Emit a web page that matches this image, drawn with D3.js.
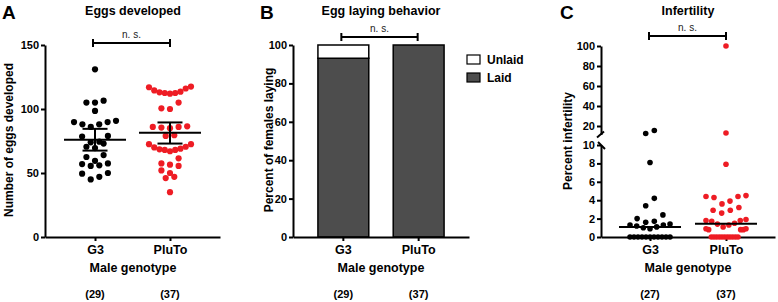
<!DOCTYPE html>
<html>
<head>
<meta charset="utf-8">
<script src="https://cdn.jsdelivr.net/npm/d3@7"></script>
<style>
  html, body { margin: 0; padding: 0; background: #fff; }
  svg { display: block; font-family: "Liberation Sans", Arial, Helvetica, sans-serif; }
  .axis path, .axis line { stroke: #000; stroke-width: 2; }
  .axis text { font-size: 11px; font-weight: bold; fill: #000; }
  .xaxis text { font-size: 12.5px; }
</style>
</head>
<body>
<svg id="chart" width="778" height="302"></svg>
<script>
// ---------------- DATA ----------------
const groups = ["G3", "PluTo"];

// Panel A: eggs developed per female
const eggsG3 = [131, 106.5, 105, 105, 98.5, 90.8, 89.8, 89.8, 88, 88, 86, 79, 78.5, 74.5, 74, 73, 70.5, 69.5,
                64, 62.5, 59.5, 57.5, 57, 56, 55.5, 50, 49.5, 47, 45];
const eggsPluTo = [117.5, 117, 116, 114.5, 113, 112.5, 112, 112.5, 113.5, 105, 100.5, 100,
                   86.5, 86, 86, 85.5, 85, 79.5, 79, 72.5, 72.5, 70.5, 70, 69, 68.5, 68, 68, 67,
                   61.5, 57.5, 56.5, 55.5, 52, 50, 47, 46, 35];
const eggsMean = [76, 81.5];
const eggsUpper = [84.5, 89.5];
const eggsLower = [67.5, 73];
const ticksA = [0, 50, 100, 150];

// Panel B: egg laying behaviour (percent of females)
const laidPct = [93.1, 100];
const unlaidPct = [6.9, 0];
const legendB = ["Unlaid", "Laid"];
const ticksB = [0, 20, 40, 60, 80, 100];

// Panel C: percent infertility
const infertG3 = [15.5, 12.5, 8.1, 4.2, 3.4, 2.4, 2.0, 1.7, 1.6, 1.4, 1.3, 1.3, 1.2, 1.1, 1.0, 0.9,
                  0, 0, 0, 0, 0, 0, 0, 0, 0, 0, 0];
const infertPluTo = [100, 13, 7.9, 4.5, 4.4, 4.4, 4.3, 3.9, 3.6, 3.2, 2.9, 2.9, 2.6, 1.9, 1.8, 1.8, 1.7,
                     1.5, 1.4, 1.3, 1.1, 0.9, 0.9, 0.8, 0.8, 0.8,
                     0, 0, 0, 0, 0, 0, 0, 0, 0, 0, 0];
const infertMedian = [1.1, 1.45];
const ticksCUpper = [20, 40, 60, 80, 100];
const ticksCLower = [0, 2, 4, 6, 8, 10];

const nA = ["(29)", "(37)"];
const nB = ["(29)", "(37)"];
const nC = ["(27)", "(37)"];

const titles = ["Eggs developed", "Egg laying behavior", "Infertility"];
const yLabels = ["Number of eggs developed", "Percent of females laying", "Percent infertility"];
const panelLetters = ["A", "B", "C"];
const xTitle = "Male genotype";
const sigText = "n. s.";

// ---------------- HELPERS ----------------
const BLACK = "#000", RED = "#ee1c24", GRAY = "#4d4d4d";
const svg = d3.select("#chart");

// Prism-like scatter: points grouped in rows (close y), spread horizontally, lowest value in centre
function rows(values, yfn, T, maxSpan, maxStep) {
  const pts = values.map(v => ({ v, y: yfn(v) })).sort((a, b) => b.v - a.v);
  const out = [];
  let i = 0;
  while (i < pts.length) {
    const grp = [pts[i]];
    let j = i + 1;
    while (j < pts.length && pts[j].y - pts[i].y <= T) { grp.push(pts[j]); j++; }
    const n = grp.length;
    const step = n > 1 ? Math.min(maxStep, maxSpan / (n - 1)) : 0;
    const slots = d3.range(n).map(k => (k - (n - 1) / 2) * step)
      .sort((a, b) => Math.abs(a) - Math.abs(b) || a - b);
    grp.sort((a, b) => a.v - b.v).forEach((p, k) => { p.dx = slots[k]; out.push(p); });
    i = j;
  }
  return out;
}

function sigBracket(x1, x2, y, textY) {
  const g = svg.append("g").attr("stroke", BLACK).attr("stroke-width", 2);
  g.append("line").attr("x1", x1).attr("x2", x2).attr("y1", y).attr("y2", y);
  g.append("line").attr("x1", x1).attr("x2", x1).attr("y1", y - 4).attr("y2", y + 4);
  g.append("line").attr("x1", x2).attr("x2", x2).attr("y1", y - 4).attr("y2", y + 4);
  svg.append("text").attr("x", (x1 + x2) / 2).attr("y", textY).attr("text-anchor", "middle")
    .attr("font-size", 10).attr("fill", "#222").text(sigText);
}

function panelTexts(i, cx, letterX, ylx, yly, ns, x) {
  svg.append("text").attr("x", letterX).attr("y", 19).attr("font-size", 19).attr("font-weight", "bold").text(panelLetters[i]);
  svg.append("text").attr("x", cx).attr("y", 15).attr("text-anchor", "middle")
    .attr("font-size", 12.5).attr("font-weight", "bold").text(titles[i]);
  svg.append("text").attr("transform", `translate(${ylx},${yly}) rotate(-90)`).attr("text-anchor", "middle")
    .attr("font-size", 12).attr("font-weight", "bold").text(yLabels[i]);
  svg.append("text").attr("x", cx).attr("y", 272).attr("text-anchor", "middle")
    .attr("font-size", 12.5).attr("font-weight", "bold").text(xTitle);
  groups.forEach((g, j) => {
    svg.append("text").attr("x", x(g)).attr("y", 298).attr("text-anchor", "middle")
      .attr("font-size", 11).attr("font-weight", "bold").text(ns[j]);
  });
}

function xAxis(x, y0) {
  svg.append("g").attr("class", "axis xaxis").attr("transform", `translate(0,${y0})`)
    .call(d3.axisBottom(x).tickSize(4).tickSizeOuter(0).tickPadding(4));
}

// ---------------- PANEL A ----------------
const xA = d3.scalePoint().domain(groups).range([45, 220]).padding(0.667);
const yA = d3.scaleLinear().domain([0, 150]).range([237, 45]);
svg.append("g").attr("class", "axis").attr("transform", "translate(45,0)")
  .call(d3.axisLeft(yA).tickValues(ticksA).tickSize(4).tickSizeOuter(0).tickPadding(2));
xAxis(xA, 237);

[[eggsG3, BLACK], [eggsPluTo, RED]].forEach(([vals, col], j) => {
  const cx = xA(groups[j]);
  svg.append("g").selectAll("circle").data(rows(vals, yA, 7.2, 42, 8.6)).join("circle")
    .attr("cx", d => cx + d.dx).attr("cy", d => d.y).attr("r", 3.1).attr("fill", col);
});
groups.forEach((g, j) => {
  const cx = xA(g);
  const e = svg.append("g").attr("stroke", BLACK).attr("stroke-width", 2);
  e.append("line").attr("x1", cx - 31).attr("x2", cx + 31).attr("y1", yA(eggsMean[j])).attr("y2", yA(eggsMean[j]));
  e.append("line").attr("x1", cx).attr("x2", cx).attr("y1", yA(eggsUpper[j])).attr("y2", yA(eggsLower[j]));
  e.append("line").attr("x1", cx - 12.5).attr("x2", cx + 12.5).attr("y1", yA(eggsUpper[j])).attr("y2", yA(eggsUpper[j]));
  e.append("line").attr("x1", cx - 12.5).attr("x2", cx + 12.5).attr("y1", yA(eggsLower[j])).attr("y2", yA(eggsLower[j]));
});
sigBracket(xA(groups[0]) - 2, xA(groups[1]), 43, 38);
panelTexts(0, 133, 2, 13, 140, nA, xA);

// ---------------- PANEL B ----------------
const xB = d3.scaleBand().domain(groups).range([293, 469]).paddingInner(0.3245).paddingOuter(0.331);
const yB = d3.scaleLinear().domain([0, 100]).range([237, 45]);
svg.append("g").selectAll("rect").data(groups).join("rect")
  .attr("x", g => xB(g)).attr("width", xB.bandwidth())
  .attr("y", (g, j) => yB(laidPct[j])).attr("height", (g, j) => yB(0) - yB(laidPct[j]))
  .attr("fill", GRAY).attr("stroke", BLACK).attr("stroke-width", 1.5);
svg.append("g").selectAll("rect").data(groups.filter((g, j) => unlaidPct[j] > 0)).join("rect")
  .attr("x", g => xB(g)).attr("width", xB.bandwidth())
  .attr("y", g => yB(laidPct[groups.indexOf(g)] + unlaidPct[groups.indexOf(g)]))
  .attr("height", g => yB(laidPct[groups.indexOf(g)]) - yB(laidPct[groups.indexOf(g)] + unlaidPct[groups.indexOf(g)]))
  .attr("fill", "#fff").attr("stroke", BLACK).attr("stroke-width", 1.5);
svg.append("g").attr("class", "axis").attr("transform", "translate(293,0)")
  .call(d3.axisLeft(yB).tickValues(ticksB).tickSize(4).tickSizeOuter(0).tickPadding(2));
xAxis(xB, 237);
legendB.forEach((name, k) => {
  svg.append("rect").attr("x", 467).attr("y", 55 + k * 18).attr("width", 13).attr("height", 9)
    .attr("fill", k === 0 ? "#fff" : GRAY).attr("stroke", BLACK).attr("stroke-width", 1.2);
  svg.append("text").attr("x", 487).attr("y", 64 + k * 18).attr("font-size", 12).attr("font-weight", "bold").text(name);
});
sigBracket(xB(groups[0]) + xB.bandwidth() / 2 - 2, xB(groups[1]) + xB.bandwidth() / 2 - 1, 37, 32);
panelTexts(1, 381, 260, 273, 140, nB, g => xB(g) + xB.bandwidth() / 2);

// ---------------- PANEL C ----------------
const xC = d3.scalePoint().domain(groups).range([601, 775]).padding(0.645);
const yCup = d3.scaleLinear().domain([11.5, 100]).range([134.5, 46]);
const yClo = d3.scaleLinear().domain([0, 10]).range([237, 145]);
const yC = v => (v > 10 ? yCup(v) : yClo(v));
svg.append("g").attr("class", "axis").attr("transform", "translate(601,0)")
  .call(d3.axisLeft(yCup).tickValues(ticksCUpper).tickSize(4).tickSizeOuter(0).tickPadding(2));
svg.append("g").attr("class", "axis").attr("transform", "translate(601,0)")
  .call(d3.axisLeft(yClo).tickValues(ticksCLower).tickSize(4).tickSizeOuter(0).tickPadding(2));
// axis break marks
const brk = svg.append("g").attr("stroke", BLACK).attr("stroke-width", 2).attr("fill", "none");
brk.append("line").attr("x1", 597).attr("y1", yCup(11.5) + 3).attr("x2", 604).attr("y2", yCup(11.5) - 3);
brk.append("line").attr("x1", 598).attr("y1", yClo(10) - 3).attr("x2", 605).attr("y2", yClo(10) + 4);
xAxis(xC, 237);

[[infertG3, BLACK], [infertPluTo, RED]].forEach(([vals, col], j) => {
  const cx = xC(groups[j]);
  svg.append("g").selectAll("circle").data(rows(vals, yC, 8.5, 40, 8.6)).join("circle")
    .attr("cx", d => cx + d.dx).attr("cy", d => d.y).attr("r", 2.8).attr("fill", col);
});
groups.forEach((g, j) => {
  const cx = xC(g);
  svg.append("line").attr("x1", cx - 31).attr("x2", cx + 31)
    .attr("y1", yC(infertMedian[j])).attr("y2", yC(infertMedian[j]))
    .attr("stroke", BLACK).attr("stroke-width", 2);
});
sigBracket(xC(groups[0]) - 1, xC(groups[1]), 36, 31);
panelTexts(2, 688, 560, 572, 141, nC, xC);
</script>
</body>
</html>
